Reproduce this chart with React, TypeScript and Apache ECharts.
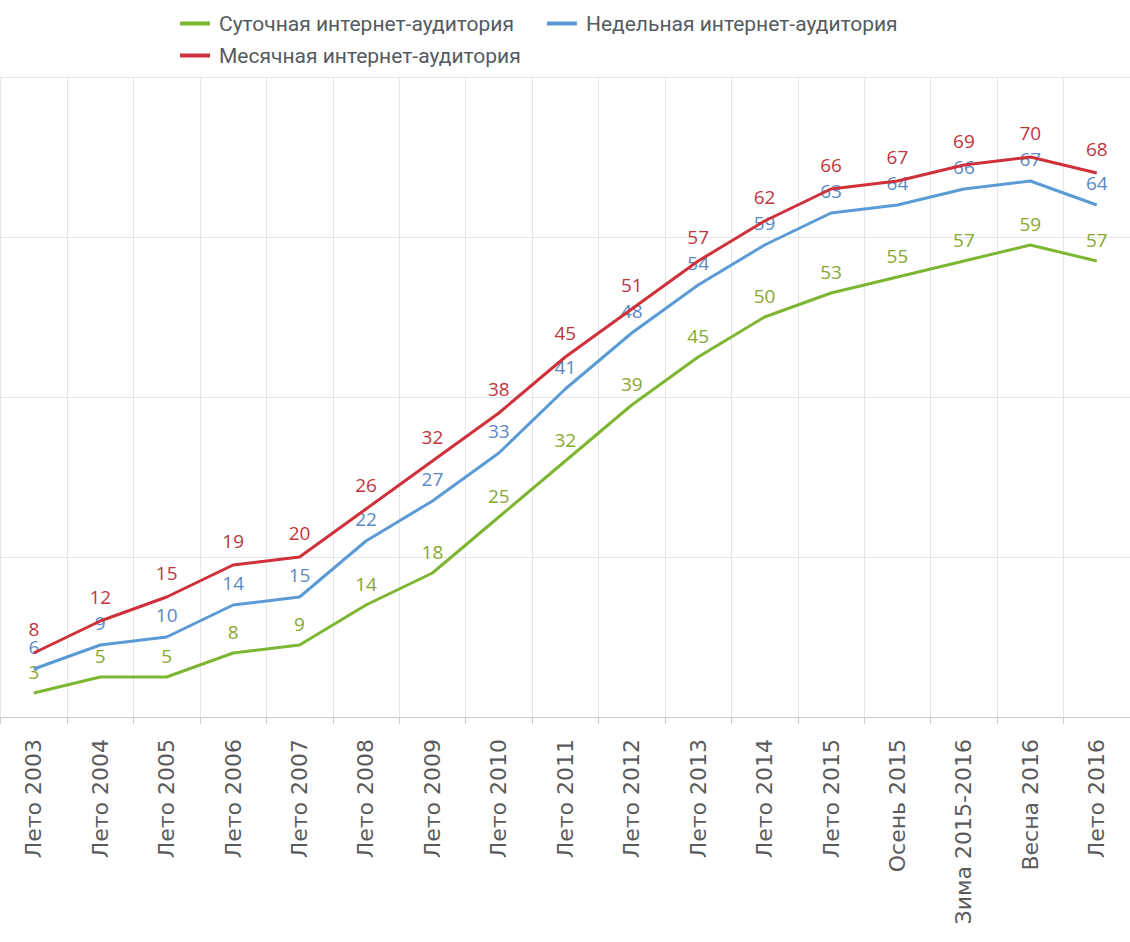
import React, { useEffect, useRef } from "react";
import * as echarts from "echarts";

const categories = [
  "Лето 2003", "Лето 2004", "Лето 2005", "Лето 2006", "Лето 2007", "Лето 2008",
  "Лето 2009", "Лето 2010", "Лето 2011", "Лето 2012", "Лето 2013", "Лето 2014",
  "Лето 2015", "Осень 2015", "Зима 2015-2016", "Весна 2016", "Лето 2016",
];
const dailyName = "Суточная интернет-аудитория";
const weeklyName = "Недельная интернет-аудитория";
const monthlyName = "Месячная интернет-аудитория";
const daily = [3, 5, 5, 8, 9, 14, 18, 25, 32, 39, 45, 50, 53, 55, 57, 59, 57];
const weekly = [6, 9, 10, 14, 15, 22, 27, 33, 41, 48, 54, 59, 63, 64, 66, 67, 64];
const monthly = [8, 12, 15, 19, 20, 26, 32, 38, 45, 51, 57, 62, 66, 67, 69, 70, 68];

const GREEN = "#7db632";
const BLUE = "#5b9bd5";
const RED = "#cf3039";

function makeSeries(name: string, data: number[], color: string, labelColor: string, z: number, dist: number) {
  return {
    name,
    type: "line",
    data,
    z,
    symbol: "circle",
    symbolSize: 0,
    showSymbol: true,
    lineStyle: { width: 3, color },
    itemStyle: { color },
    label: {
      show: true,
      position: "top",
      distance: dist,
      color: labelColor,
      fontFamily: "Open Sans",
      fontSize: 19,
    },
  };
}

export default function App() {
  const ref = useRef<HTMLDivElement>(null);
  useEffect(() => {
    if (!ref.current) return;
    const chart = echarts.init(ref.current, null, { renderer: "svg" });
    const legendText = {
      color: "#555a60",
      fontFamily: "Roboto, sans-serif",
      fontSize: 21,
      padding: [0, 0, 0, 4],
    };
    chart.setOption({
      animation: false,
      backgroundColor: "#ffffff",
      legend: [
        {
          data: [dailyName, weeklyName],
          left: 175,
          top: 8,
          itemGap: 33,
          itemWidth: 30,
          itemHeight: 4,
          icon: "rect",
          textStyle: legendText,
        },
        {
          data: [monthlyName],
          left: 175,
          top: 40,
          itemWidth: 30,
          itemHeight: 4,
          icon: "rect",
          textStyle: legendText,
        },
      ],
      grid: { left: 0.6, right: -5.7, top: 77, bottom: 225, containLabel: false },
      xAxis: {
        type: "category",
        data: categories,
        boundaryGap: true,
        axisLine: { show: true, lineStyle: { color: "#c5cdd6", width: 1 } },
        axisTick: { show: true, length: 7, lineStyle: { color: "#c5cdd6" } },
        splitLine: { show: true, lineStyle: { color: "#e4e6e9", width: 1 } },
        axisLabel: {
          rotate: 90,
          margin: 22,
          interval: 0,
          color: "#5a5a5a",
          fontFamily: "DejaVu Sans",
          fontSize: 22,
        },
      },
      yAxis: {
        type: "value",
        min: 0,
        max: 80,
        interval: 20,
        axisLine: { show: false },
        axisTick: { show: false },
        axisLabel: { show: false },
        splitLine: { show: true, lineStyle: { color: "#e4e6e9", width: 1 } },
      },
      series: [
        makeSeries(dailyName, daily, GREEN, "#86a832", 2, 12),
        makeSeries(weeklyName, weekly, BLUE, "#5a88c2", 3, 13),
        makeSeries(monthlyName, monthly, RED, "#c0353c", 4, 15),
      ],
    });
    return () => chart.dispose();
  }, []);
  return (
    <div
      ref={ref}
      style={{ position: "fixed", left: 0, top: 0, width: 1130, height: 942 }}
    />
  );
}
